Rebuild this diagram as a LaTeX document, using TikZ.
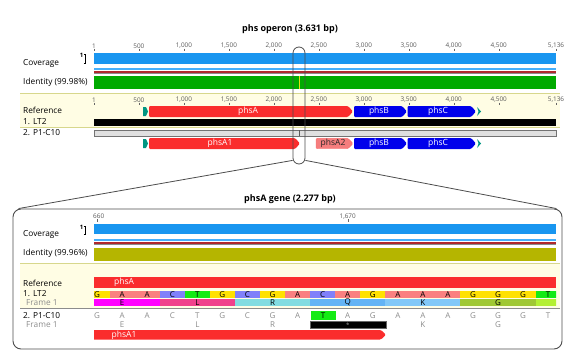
\documentclass[tikz,border=0pt]{standalone}
\usepackage{fontspec}
\setmainfont{Open Sans}
\usetikzlibrary{positioning}

\definecolor{covblue}{RGB}{25,150,240}
\definecolor{covlight}{RGB}{70,175,250}
\definecolor{covred}{RGB}{175,40,45}
\definecolor{idgreen}{RGB}{0,170,0}
\definecolor{idolive}{RGB}{181,181,0}
\definecolor{refband}{RGB}{255,253,228}
\definecolor{refline}{RGB}{215,215,140}
\definecolor{genered}{RGB}{250,45,45}
\definecolor{genepink}{RGB}{245,125,125}
\definecolor{geneblue}{RGB}{0,0,235}
\definecolor{geneteal}{RGB}{0,150,130}
\definecolor{ntG}{RGB}{255,225,0}
\definecolor{ntA}{RGB}{250,128,128}
\definecolor{ntC}{RGB}{128,128,250}
\definecolor{ntT}{RGB}{20,235,20}
\definecolor{aaE}{RGB}{255,0,255}
\definecolor{aaL}{RGB}{240,65,140}
\definecolor{aaR}{RGB}{130,220,225}
\definecolor{aaQ}{RGB}{100,180,245}
\definecolor{aaK}{RGB}{130,200,248}
\definecolor{aaG}{RGB}{160,200,50}
\definecolor{aaX}{RGB}{180,240,50}

% gene arrow: x from, x to, y top, y bottom, colour
\newcommand{\genearrow}[5]{%
  \fill[#5, rounded corners=1.2pt] (#2,{(#3+#4)/2}) -- (#2-5,#3) -- (#1,#3) -- (#1,#4) -- (#2-5,#4) -- cycle;}

\begin{document}
\begin{tikzpicture}[x=1pt, y=-1pt,
    lbl/.style={anchor=west, inner sep=0pt, font=\fontsize{8.3}{9}\selectfont},
    frm/.style={lbl, text=black!45},
    ttl/.style={inner sep=0pt, font=\bfseries\fontsize{9}{10}\selectfont},
    rul/.style={inner sep=0pt, text=black!65, font=\fontsize{6.4}{7}\selectfont},
    glbl/.style={inner sep=0pt, text=white, font=\fontsize{8.5}{9}\selectfont},
    nuc/.style={inner sep=0pt, font=\fontsize{8}{8}\selectfont},
    nucg/.style={nuc, text=black!45},
    outl/.style={draw=black!70, line width=0.8pt}]
    \useasboundingbox (0,0) rectangle (570,359);

    %% ---- operon overview ----
    \node [ttl] (title1) at (290,29) {phs operon (3.631 bp)};
    \foreach \p/\t in {1/1, 500/500, 1000/{1,000}, 1500/{1,500}, 2000/{2,000}, 2500/{2,500}, 3000/{3,000}, 3500/{3,500}, 4000/{4,000}, 4500/{4,500}, 5136/{5,136}}{
        \pgfmathsetmacro\xx{94+(\p-1)*0.08997}
        \node [rul] (rt\p) at (\xx,46) {\t};
        \draw [black!60, line width=0.4pt] (\xx,48.5) -- (\xx,51);
    }
    \node [lbl] (cov1) at (23,63) {Coverage};
    \node [inner sep=0pt, font=\bfseries\fontsize{6}{6}\selectfont] (covmax1) at (81.5,55.5) {1};
    \draw [line width=0.6pt] (85,54) -- (85,63) (83.8,54) -- (86.2,54) (83.8,63) -- (86.2,63);
    \fill [covblue] (94,53) rectangle (556,64);
    \fill [covlight] (94,68.3) rectangle (556,70.3);
    \fill [covred] (94,70.8) rectangle (556,72.8);
    \fill [black!45] (94,72.8) rectangle (556,73.8);
    \fill [idgreen] (94,75.7) rectangle (556,89);
    \draw [yellow!90!black, line width=1pt] (299.5,76) -- (299.5,89);
    \node [lbl] (id1) at (23,82) {Identity (99.98\%)};

    \fill [refband] (20,93) rectangle (560,127);
    \draw [refline, line width=1pt] (20,93) -- (560,93) (20,127) -- (560,127);
    \foreach \p/\t in {1/1, 500/500, 1000/{1,000}, 1500/{1,500}, 2000/{2,000}, 2500/{2,500}, 3000/{3,000}, 3500/{3,500}, 4000/{4,000}, 4500/{4,500}, 5136/{5,136}}{
        \pgfmathsetmacro\xx{94+(\p-1)*0.08997}
        \node [rul] (rb\p) at (\xx,100) {\t};
        \draw [black!60, line width=0.4pt] (\xx,102.5) -- (\xx,105);
    }
    \node [lbl] (ref1) at (23,110) {Reference};
    \fill [geneteal] (143,107) -- (146,107) -- (148,111.5) -- (146,116) -- (143,116) -- cycle;
    \genearrow{149}{353}{106}{117}{genered}
    \genearrow{354}{407}{106}{117}{geneblue}
    \genearrow{407.5}{476}{106}{117}{geneblue}
    \fill [geneteal] (477,107) -- (481,111.5) -- (477,116) -- (478.5,111.5) -- cycle;
    \node [glbl] (phsA) at (248,111.5) {phsA};
    \node [glbl] (phsB) at (379,111.5) {phsB};
    \node [glbl] (phsC) at (438,111.5) {phsC};
    \node [lbl] (lt2) at (23,122) {1. LT2};
    \fill [black] (94,118.5) rectangle (556,125.5);

    \node [lbl] (p1c10) at (23,133) {2. P1-C10};
    \draw [fill=black!12, draw=black!55, line width=0.6pt] (94,130) rectangle (556,136);
    \draw [black!65, line width=0.6pt] (299.5,130) -- (299.5,136);
    \fill [geneteal] (143,139) -- (146,139) -- (148,143.5) -- (146,148) -- (143,148) -- cycle;
    \genearrow{149}{300}{138}{149}{genered}
    \fill [genepink, draw=genered!70, line width=0.4pt, rounded corners=1.2pt] (353,143.5) -- (348,138.3) -- (316,138.3) -- (316,148.7) -- (348,148.7) -- cycle;
    \genearrow{354}{407}{138}{149}{geneblue}
    \genearrow{407.5}{476}{138}{149}{geneblue}
    \fill [geneteal] (477,139) -- (481,143.5) -- (477,148) -- (478.5,143.5) -- cycle;
    \node [glbl] (phsA1) at (220,143.5) {phsA1};
    \node [glbl, text=black!85] (phsA2) at (333,143.5) {phsA2};
    \node [glbl] (phsB2) at (379,143.5) {phsB};
    \node [glbl] (phsC2) at (438,143.5) {phsC};

    %% ---- zoomed gene ----
    \node [outl, line width=0.9pt, rounded corners=8pt, minimum width=549pt, minimum height=140pt, inner sep=0pt] (zoombox) at (287.5,279) {};
    \node [outl, rounded corners=6pt, minimum width=12pt, minimum height=117pt, inner sep=0pt] (pill) at (299,105.5) {};
    \draw [outl] ([yshift=4pt]pill.south west) -- ([xshift=6pt]zoombox.north west);
    \draw [outl] ([yshift=4pt]pill.south east) -- ([xshift=-6pt]zoombox.north east);

    \node [ttl] (title2) at (290,199) {phsA gene (2.277 bp)};
    \begin{scope}
        \clip (93,205) rectangle (556,280);
        \node [rul] (z1660) at (96.1,217) {1,660};
        \node [rul] (z1670) at (347.7,217) {1,670};
        \node [rul] (zb1660) at (96.1,271) {1,660};
        \node [rul] (zb1669) at (322.6,271) {1,669};
        \node [rul] (zb1670) at (347.7,271) {1,670};
        \draw [black!60, line width=0.4pt] (97.1,219) -- (97.1,222) (347.7,219) -- (347.7,222)
            (97.1,273) -- (97.1,276) (322.6,273) -- (322.6,276) (347.7,273) -- (347.7,276);
    \end{scope}
    \node [lbl] (cov2) at (23,234) {Coverage};
    \node [inner sep=0pt, font=\bfseries\fontsize{6}{6}\selectfont] (covmax2) at (81.5,227) {1};
    \draw [line width=0.6pt] (85,226) -- (85,234.5) (83.8,226) -- (86.2,226) (83.8,234.5) -- (86.2,234.5);
    \fill [covblue] (94,224.3) rectangle (556,234.3);
    \fill [covlight] (94,239.3) rectangle (556,241.2);
    \fill [covred] (94,241.7) rectangle (556,243.7);
    \fill [black!45] (94,243.7) rectangle (556,244.7);
    \fill [idolive] (94,247.7) rectangle (556,260.5);
    \node [lbl] (id2) at (23,253) {Identity (99.96\%)};

    \fill [refband] (20,263) rectangle (560,308);
    \draw [refline, line width=1pt] (20,263) -- (560,263);
    \draw [black!45, line width=1pt] (20,308) -- (560,308);
    \node [lbl] (ref2) at (23,283) {Reference};
    \fill [genered] (94,277) rectangle (556,288);
    \node [glbl] (phsAz) at (124,282.5) {phsA};
    \node [lbl] (lt2z) at (23,294) {1. LT2};
    \node [frm] (fr1) at (26,303) {Frame 1};
    \begin{scope}
        \clip (94,285) rectangle (556,345);
        \foreach \n [count=\k from 0] in {G,A,A,C,T,G,C,G,A,C,A,G,A,A,A,G,G,G,T}{
            \pgfmathsetmacro\cx{97.1+25.06*\k}
            \fill [nt\n] (\cx-12.53,290.5) rectangle (\cx+12.53,297.5);
            \node [nuc] (ref\k) at (\cx,294.2) {\n};
        }
        \foreach \a [count=\j from 0] in {E,L,R,Q,K,G}{
            \pgfmathsetmacro\bx{84.57+75.18*\j}
            \fill [aa\a] (\bx,299) rectangle (\bx+75.18,306);
            \node [nuc] (aa\j) at (\bx+37.59,302.7) {\a};
        }
        \fill [aaX] (535.65,299) rectangle (560,306);
        \genearrow{90}{386}{330}{339.5}{genered}
    \end{scope}
    \node [glbl] (phsA1z) at (124,335) {phsA1};

    \node [lbl] (p1z) at (23,316) {2. P1-C10};
    \node [frm] (fr2) at (26,325) {Frame 1};
    \foreach \n [count=\k from 0] in {G,A,A,C,T,G,C,G,A,T,A,G,A,A,A,G,G,G,T}{
        \pgfmathsetmacro\cx{97.1+25.06*\k}
        \ifnum\k=9 \else \node [nucg] (alt\k) at (\cx,316) {\n}; \fi
    }
    \fill [ntT] (310.6,311.3) rectangle (335.7,319.5);
    \node [nuc] (alt9) at (323.15,315.5) {T};
    \draw [fill=black, draw=black!60, line width=0.4pt] (310.6,321) rectangle (385.8,328.5);
    \node [inner sep=0pt, text=black!40, font=\fontsize{6}{6}\selectfont] (stop) at (347.7,325.5) {*};
    \foreach \a/\k in {E/1, L/4, R/7, K/13, G/16}{
        \pgfmathsetmacro\cx{97.1+25.06*\k}
        \node [nucg] (altaa\k) at (\cx,325) {\a};
    }
\end{tikzpicture}
\end{document}
